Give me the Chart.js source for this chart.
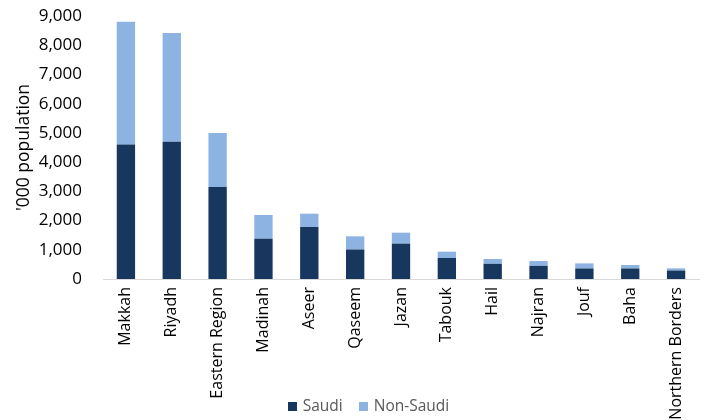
<!DOCTYPE html>
<html>
<head>
<meta charset="utf-8">
<script src="https://cdn.jsdelivr.net/npm/chart.js@4.4.1/dist/chart.umd.min.js"></script>
<style>
  html, body { margin: 0; padding: 0; background: #fff; }
  #wrap { position: relative; width: 705px; height: 420px; }
  #legend {
    position: absolute; left: 16px; width: 705px; top: 394px;
    text-align: center; font: 15.5px "Open Sans", sans-serif; color: #595959;
  }
  #legend span.item { margin: 0 8px; white-space: nowrap; }
  #legend i { display: inline-block; width: 9px; height: 9px; margin-right: 6px; vertical-align: 0px; }
</style>
</head>
<body>
<div id="wrap">
  <canvas id="myChart" width="705" height="420"></canvas>
  <div id="legend"></div>
</div>
<script>
(function () {
  "use strict";

  const regions = [
    "Makkah", "Riyadh", "Eastern Region", "Madinah", "Aseer", "Qaseem", "Jazan",
    "Tabouk", "Hail", "Najran", "Jouf", "Baha", "Northern Borders",
  ];
  // population in thousands
  const saudi = [4600, 4700, 3150, 1380, 1780, 1010, 1210, 720, 520, 450, 360, 360, 290];
  const nonSaudi = [4200, 3720, 1850, 810, 455, 450, 375, 215, 165, 165, 175, 120, 75];
  const yTicks = [0, 1000, 2000, 3000, 4000, 5000, 6000, 7000, 8000, 9000];

  const seriesNames = ["Saudi", "Non-Saudi"];
  const seriesColors = ["#17375e", "#8db3e2"];

  const font = "'Open Sans', sans-serif";

  // legend sits over the label band, like the spreadsheet original
  const legend = document.getElementById("legend");
  seriesNames.forEach((name, i) => {
    const item = document.createElement("span");
    item.className = "item";
    item.innerHTML = '<i style="background:' + seriesColors[i] + '"></i>' + name;
    legend.appendChild(item);
  });

  const ctx = document.getElementById("myChart");
  new Chart(ctx, {
    type: "bar",
    data: {
      labels: regions,
      datasets: [
        { label: seriesNames[0], data: saudi, backgroundColor: seriesColors[0] },
        { label: seriesNames[1], data: nonSaudi, backgroundColor: seriesColors[1] },
      ],
    },
    options: {
      responsive: false,
      animation: false,
      layout: { padding: { top: 16, right: 6 } },
      datasets: {
        bar: { categoryPercentage: 1, barPercentage: 0.4 },
      },
      plugins: {
        legend: { display: false },
        tooltip: { enabled: false },
      },
      scales: {
        x: {
          stacked: true,
          grid: { display: false, drawTicks: false },
          border: { display: true, color: "#d9d9d9", width: 1 },
          ticks: {
            color: "#000",
            font: { family: font, size: 16 },
            minRotation: 90,
            maxRotation: 90,
            autoSkip: false,
            padding: 8,
          },
          afterFit: (axis) => { axis.height = 141; },
        },
        y: {
          stacked: true,
          min: 0,
          max: 9000,
          grid: { display: false, drawTicks: false },
          border: { display: false },
          afterBuildTicks: (axis) => { axis.ticks = yTicks.map((v) => ({ value: v })); },
          ticks: {
            color: "#000",
            font: { family: font, size: 17 },
            padding: 21,
            callback: (v) => v.toLocaleString("en-US"),
          },
          title: {
            display: true,
            text: "'000 population",
            color: "#000",
            font: { family: font, size: 17.5 },
            padding: { top: 14, bottom: 0 },
          },
          afterFit: (axis) => {
            axis.width = 103;
            axis.paddingTop = 0;
            axis.paddingBottom = 0;
          },
        },
      },
    },
  });
})();
</script>
</body>
</html>
